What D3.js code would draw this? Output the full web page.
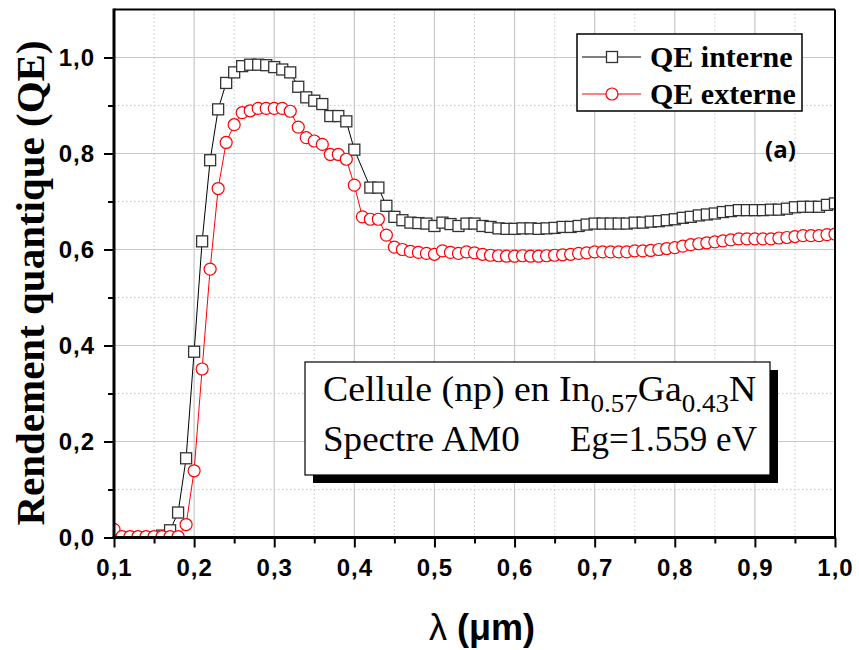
<!DOCTYPE html>
<html>
<head>
<meta charset="utf-8">
<script src="https://cdn.jsdelivr.net/npm/d3@7"></script>
<style>
  html, body { margin: 0; padding: 0; background: #fff; }
  svg { display: block; }
</style>
</head>
<body>
<svg id="chart" width="859" height="650"></svg>
<script>
// Wavelength samples (µm)
const wavelengths = [
  0.10, 0.11, 0.12, 0.13, 0.14, 0.15, 0.16, 0.17, 0.18, 0.19,
  0.20, 0.21, 0.22, 0.23, 0.24, 0.25, 0.26, 0.27, 0.28, 0.29,
  0.30, 0.31, 0.32, 0.33, 0.34, 0.35, 0.36, 0.37, 0.38, 0.39,
  0.40, 0.41, 0.42, 0.43, 0.44, 0.45, 0.46, 0.47, 0.48, 0.49,
  0.50, 0.51, 0.52, 0.53, 0.54, 0.55, 0.56, 0.57, 0.58, 0.59,
  0.60, 0.61, 0.62, 0.63, 0.64, 0.65, 0.66, 0.67, 0.68, 0.69,
  0.70, 0.71, 0.72, 0.73, 0.74, 0.75, 0.76, 0.77, 0.78, 0.79,
  0.80, 0.81, 0.82, 0.83, 0.84, 0.85, 0.86, 0.87, 0.88, 0.89,
  0.90, 0.91, 0.92, 0.93, 0.94, 0.95, 0.96, 0.97, 0.98, 0.99,
  1.00
];

// Internal quantum efficiency (null = no sample)
const qeInterne = [
  0.000, 0.000, 0.000, 0.000, 0.000, 0.000, 0.004, 0.015, 0.052, 0.165,
  0.387, 0.617, 0.786, 0.892, 0.947, 0.969, 0.982, 0.985, 0.985, 0.984,
  0.980, 0.975, 0.969, 0.939, 0.917, 0.910, 0.903, 0.878, 0.878, 0.867,
  0.808, null,  0.729, 0.729, 0.691, 0.668, 0.661, 0.656, 0.655, 0.654,
  0.649, 0.656, 0.653, 0.649, 0.654, 0.654, 0.649, 0.647, 0.644, 0.643,
  0.643, 0.644, 0.644, 0.643, 0.644, 0.645, 0.647, 0.647, 0.649, 0.652,
  0.654, 0.654, 0.654, 0.654, 0.654, 0.656, 0.656, 0.658, 0.659, 0.661,
  0.663, 0.666, 0.668, 0.671, 0.673, 0.675, 0.678, 0.680, 0.682, 0.682,
  0.682, 0.682, 0.683, 0.683, 0.685, 0.688, 0.689, 0.689, 0.689, 0.693,
  0.696
];

// External quantum efficiency
const qeExterne = [
  0.017, 0.002, 0.002, 0.002, 0.002, 0.002, 0.002, 0.002, 0.002, 0.027,
  0.139, 0.351, 0.559, 0.727, 0.823, 0.860, 0.885, 0.889, 0.894, 0.894,
  0.894, 0.894, 0.888, 0.855, 0.833, 0.826, 0.819, 0.798, 0.798, 0.788,
  0.734, 0.668, 0.663, 0.663, 0.630, 0.605, 0.600, 0.596, 0.594, 0.592,
  0.590, 0.597, 0.594, 0.592, 0.595, 0.593, 0.590, 0.588, 0.587, 0.586,
  0.586, 0.587, 0.586, 0.586, 0.587, 0.588, 0.589, 0.590, 0.592, 0.593,
  0.595, 0.595, 0.595, 0.595, 0.595, 0.597, 0.597, 0.598, 0.600, 0.602,
  0.604, 0.607, 0.610, 0.612, 0.614, 0.616, 0.618, 0.620, 0.622, 0.622,
  0.622, 0.622, 0.622, 0.624, 0.625, 0.627, 0.629, 0.629, 0.629, 0.631,
  0.632
];

const xMajorTicks = [0.1, 0.2, 0.3, 0.4, 0.5, 0.6, 0.7, 0.8, 0.9, 1.0];
const xMinorTicks = [0.15, 0.25, 0.35, 0.45, 0.55, 0.65, 0.75, 0.85, 0.95];
const yMajorTicks = [0.0, 0.2, 0.4, 0.6, 0.8, 1.0];
const yMinorTicks = [0.1, 0.3, 0.5, 0.7, 0.9];

const seriesNames = ["QE interne", "QE externe"];

const svg = d3.select("#chart");
const box = { left: 114, right: 835, top: 9.5, bottom: 537.5 };

const x = d3.scaleLinear().domain([0.1, 1.0]).range([box.left, box.right]);
const y = d3.scaleLinear().domain([0, 1.1]).range([box.bottom, box.top]);
const fmt = v => d3.format(".1f")(v).replace(".", ",");

// Grid
const grid = svg.append("g");
grid.selectAll(".gxm").data(xMajorTicks.slice(1, -1)).join("line")
  .attr("x1", d => x(d)).attr("x2", d => x(d)).attr("y1", box.top).attr("y2", box.bottom)
  .attr("stroke", "#c8c8c8").attr("stroke-width", 1.2);
grid.selectAll(".gxn").data(xMinorTicks).join("line")
  .attr("x1", d => x(d)).attr("x2", d => x(d)).attr("y1", box.top).attr("y2", box.bottom)
  .attr("stroke", "#c8c8c8").attr("stroke-width", 1).attr("stroke-dasharray", "1.5,2.5");
grid.selectAll(".gym").data(yMajorTicks.slice(1)).join("line")
  .attr("y1", d => y(d)).attr("y2", d => y(d)).attr("x1", box.left).attr("x2", box.right)
  .attr("stroke", "#c8c8c8").attr("stroke-width", 1.2);
grid.selectAll(".gyn").data(yMinorTicks).join("line")
  .attr("y1", d => y(d)).attr("y2", d => y(d)).attr("x1", box.left).attr("x2", box.right)
  .attr("stroke", "#c8c8c8").attr("stroke-width", 1).attr("stroke-dasharray", "1.5,2.5");

// Axes
const tickFont = "'Liberation Sans', Arial, sans-serif";
const xAxis = svg.append("g").attr("transform", `translate(0,${box.bottom})`)
  .call(d3.axisBottom(x).tickValues(xMajorTicks).tickFormat(fmt).tickSize(10).tickPadding(7));
svg.append("g").attr("transform", `translate(0,${box.bottom})`)
  .call(d3.axisBottom(x).tickValues(xMinorTicks).tickFormat("").tickSize(6));
const yAxis = svg.append("g").attr("transform", `translate(${box.left},0)`)
  .call(d3.axisLeft(y).tickValues(yMajorTicks).tickFormat(fmt).tickSize(10).tickPadding(9));
svg.append("g").attr("transform", `translate(${box.left},0)`)
  .call(d3.axisLeft(y).tickValues(yMinorTicks).tickFormat("").tickSize(6));
svg.selectAll(".domain").remove();
svg.selectAll(".tick line").attr("stroke", "#000").attr("stroke-width", 2);
svg.selectAll(".tick text")
  .attr("font-family", tickFont).attr("font-weight", "bold")
  .attr("font-size", 24).attr("letter-spacing", 1).attr("fill", "#000");
xAxis.selectAll(".tick text").attr("dy", "0.9em");

// Clip region for data
svg.append("clipPath").attr("id", "plotClip").append("rect")
  .attr("x", box.left).attr("y", box.top)
  .attr("width", box.right - box.left).attr("height", box.bottom - box.top);
const plot = svg.append("g").attr("clip-path", "url(#plotClip)");

const line = d3.line().x(d => x(d[0])).y(d => y(d[1]));
const ptsInt = wavelengths.map((w, i) => [w, qeInterne[i]]).filter(d => d[1] !== null);
const ptsExt = wavelengths.map((w, i) => [w, qeExterne[i]]).filter(d => d[1] !== null);

// QE interne: black line with open squares
plot.append("path").datum(ptsInt).attr("d", line)
  .attr("fill", "none").attr("stroke", "#000").attr("stroke-width", 1);
plot.selectAll(".sq").data(ptsInt).join("rect")
  .attr("x", d => x(d[0]) - 5.5).attr("y", d => y(d[1]) - 5.5)
  .attr("width", 11).attr("height", 11)
  .attr("fill", "#fff").attr("stroke", "#333").attr("stroke-width", 1.3);

// QE externe: red line with open circles
plot.append("path").datum(ptsExt).attr("d", line)
  .attr("fill", "none").attr("stroke", "#ff0000").attr("stroke-width", 1);
plot.selectAll(".ci").data(ptsExt).join("circle")
  .attr("cx", d => x(d[0])).attr("cy", d => y(d[1])).attr("r", 6)
  .attr("fill", "#fff").attr("stroke", "#ff0000").attr("stroke-width", 1.2);

// Frame
svg.append("line").attr("x1", box.left).attr("x2", box.right).attr("y1", box.top).attr("y2", box.top)
  .attr("stroke", "#000").attr("stroke-width", 2);
svg.append("line").attr("x1", box.right).attr("x2", box.right).attr("y1", box.top).attr("y2", box.bottom)
  .attr("stroke", "#000").attr("stroke-width", 2);
svg.append("line").attr("x1", box.left).attr("x2", box.left).attr("y1", box.top - 1).attr("y2", box.bottom + 1.5)
  .attr("stroke", "#000").attr("stroke-width", 3);
svg.append("line").attr("x1", box.left - 1.5).attr("x2", box.right + 1).attr("y1", box.bottom).attr("y2", box.bottom)
  .attr("stroke", "#000").attr("stroke-width", 3);

// Axis titles
svg.append("text")
  .attr("transform", "translate(44,283) rotate(-90)")
  .attr("text-anchor", "middle")
  .attr("font-family", "'Liberation Serif', 'Times New Roman', serif")
  .attr("font-weight", "bold").attr("font-size", 41)
  .text("Rendement quantique (QE)");
const xt = svg.append("text")
  .attr("x", 482).attr("y", 640).attr("text-anchor", "middle")
  .attr("font-family", tickFont).attr("font-weight", "bold").attr("font-size", 36);
xt.append("tspan").attr("font-weight", "normal").text("λ");
xt.append("tspan").text(" (μm)");

// Legend
const lg = svg.append("g");
lg.append("rect").attr("x", 577).attr("y", 34).attr("width", 225).attr("height", 77)
  .attr("fill", "#fff").attr("stroke", "#000").attr("stroke-width", 1.5);
const rows = [57, 94];
lg.append("line").attr("x1", 582).attr("x2", 641).attr("y1", rows[0]).attr("y2", rows[0])
  .attr("stroke", "#000").attr("stroke-width", 1);
lg.append("rect").attr("x", 606.5).attr("y", rows[0] - 5.5).attr("width", 11).attr("height", 11)
  .attr("fill", "#fff").attr("stroke", "#333").attr("stroke-width", 1.3);
lg.append("line").attr("x1", 582).attr("x2", 641).attr("y1", rows[1]).attr("y2", rows[1])
  .attr("stroke", "#ff0000").attr("stroke-width", 1);
lg.append("circle").attr("cx", 612).attr("cy", rows[1]).attr("r", 6)
  .attr("fill", "#fff").attr("stroke", "#ff0000").attr("stroke-width", 1.2);
lg.selectAll(".lt").data(seriesNames).join("text")
  .attr("x", 650).attr("y", (d, i) => rows[i] + 10)
  .attr("font-family", "'Liberation Serif', 'Times New Roman', serif")
  .attr("font-weight", "bold").attr("font-size", 30)
  .text(d => d);

// Panel tag
svg.append("text").attr("x", 765).attr("y", 158)
  .attr("font-family", "'Open Sans', sans-serif").attr("font-weight", "bold").attr("font-size", 24)
  .text("(a)");

// Annotation box with drop shadow
const serif = "'Liberation Serif', 'Times New Roman', serif";
svg.append("rect").attr("x", 313).attr("y", 370).attr("width", 465).attr("height", 113).attr("fill", "#000");
svg.append("rect").attr("x", 305).attr("y", 362).attr("width", 465).attr("height", 113)
  .attr("fill", "#fff").attr("stroke", "#000").attr("stroke-width", 1.2);
const t1 = svg.append("text").attr("transform", "translate(323,401) scale(1.08,1)")
  .attr("font-family", serif).attr("font-size", 35);
t1.append("tspan").text("Cellule (np) en In");
t1.append("tspan").attr("dy", 11).attr("font-size", 25).text("0.57");
t1.append("tspan").attr("dy", -11).text("Ga");
t1.append("tspan").attr("dy", 11).attr("font-size", 25).text("0.43");
t1.append("tspan").attr("dy", -11).text("N");
svg.append("text").attr("transform", "translate(323,451) scale(1.06,1)")
  .attr("font-family", serif).attr("font-size", 35).text("Spectre AM0");
svg.append("text").attr("transform", "translate(570,451)")
  .attr("font-family", serif).attr("font-size", 35).text("Eg=1.559 eV");
</script>
</body>
</html>
